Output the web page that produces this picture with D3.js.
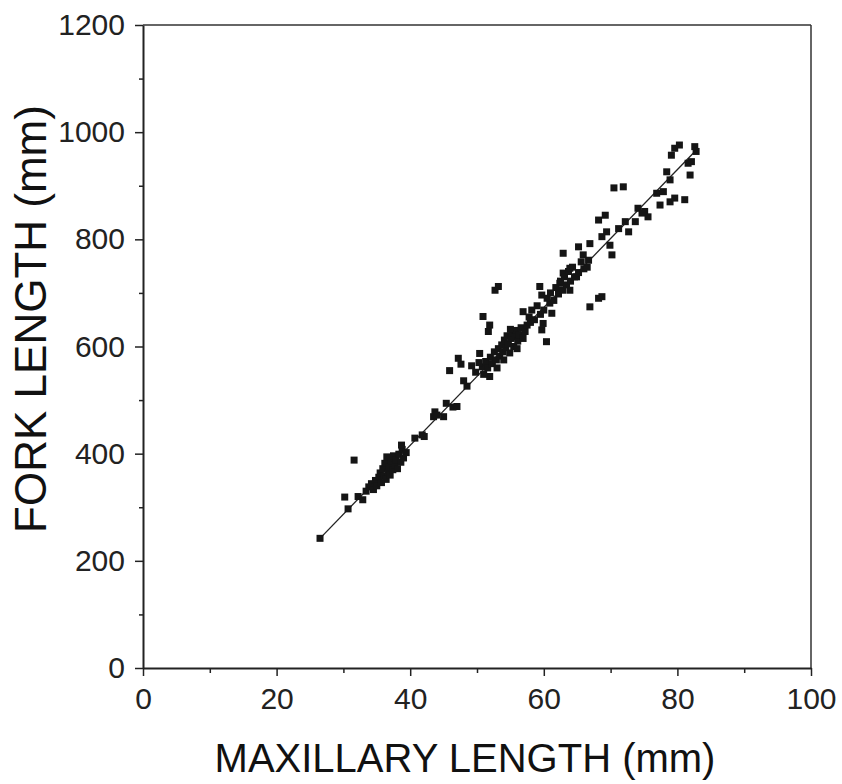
<!DOCTYPE html>
<html>
<head>
<meta charset="utf-8">
<script src="https://cdn.jsdelivr.net/npm/d3@7"></script>
<style>
  body { margin: 0; background: #fff; }
  svg { display: block; }
  .tick text { font-family: "Liberation Sans", Arial, sans-serif; fill: #222; }
</style>
</head>
<body>
<script>
// maxillary length (mm) and fork length (mm)
const maxillary = [
  26.5, 30.2, 30.7, 31.6, 32.2, 32.9, 33.4, 33.8, 34.2, 34.5,
  34.8, 35.0, 35.3, 35.5, 35.7, 35.9, 36.1, 36.2, 36.4, 36.5,
  36.7, 36.9, 37.0, 37.2, 37.4, 37.5, 37.7, 37.9, 38.1, 38.3,
  38.6, 38.8, 39.0, 39.4, 38.7, 40.7, 41.8, 42.1, 43.5, 43.7,
  44.0, 45.0, 45.4, 46.4, 47.0, 48.5, 45.9, 47.2, 47.6, 49.2,
  50.4, 51.9, 52.7, 53.2, 50.9, 51.9, 51.7, 50.8, 51.3, 51.6,
  52.0, 52.3, 52.6, 52.9, 53.2, 53.4, 53.7, 53.9, 54.1, 54.3,
  54.5, 54.7, 54.9, 55.1, 55.3, 55.5, 55.7, 55.9, 56.1, 56.3,
  56.6, 56.9, 57.2, 57.5, 53.0, 54.0, 55.0, 51.0, 56.0, 56.9,
  58.2, 59.4, 59.7, 59.9, 59.7, 60.4, 60.9, 61.2, 62.4, 62.9,
  63.9, 64.9, 66.9, 68.2, 60.5, 61.0, 61.5, 61.8, 62.2, 62.5,
  62.8, 63.1, 63.4, 63.7, 64.0, 64.3, 64.6, 65.2, 65.6, 66.0,
  60.0, 59.5, 58.6, 58.0, 59.0, 63.9, 66.5, 62.9, 65.2, 66.9,
  65.9, 66.7, 68.2, 69.2, 68.7, 69.4, 69.9, 70.2, 71.2, 72.2,
  72.7, 73.7, 74.1, 75.1, 75.6, 77.4, 78.9, 79.6, 71.9, 70.5,
  74.7, 76.9, 77.9, 81.1, 78.4, 78.9, 81.9, 81.6, 82.1, 79.1,
  79.6, 80.3, 82.6, 82.8, 57.8, 49.8, 50.3, 48.0, 68.7
];
const fork = [
  242, 319, 297, 388, 320, 314, 330, 338, 344, 333,
  350, 340, 356, 364, 346, 372, 358, 382, 352, 394,
  366, 376, 360, 386, 370, 396, 378, 389, 372, 399,
  384, 408, 392, 402, 416, 429, 435, 432, 469, 478,
  472, 469, 494, 487, 488, 526, 555, 578, 567, 564,
  587, 544, 705, 712, 656, 640, 628, 562, 572, 560,
  580, 568, 590, 575, 596, 582, 603, 590, 612, 598,
  620, 605, 588, 615, 625, 600, 618, 630, 610, 622,
  635, 615, 628, 640, 560, 575, 632, 548, 596, 665,
  668, 712, 696, 643, 631, 609, 681, 662, 718, 737,
  705, 730, 674, 690, 690, 700, 686, 710, 698, 722,
  705, 730, 715, 740, 722, 748, 730, 738, 758, 745,
  668, 660, 650, 645, 676, 746, 748, 774, 786, 792,
  771, 761, 836, 845, 805, 814, 789, 771, 820, 833,
  814, 833, 858, 852, 842, 864, 870, 877, 898, 896,
  849, 886, 889, 874, 926, 911, 920, 942, 945, 957,
  970, 976, 973, 964, 655, 552, 570, 536, 693
];

// fitted line end points
const fitX = [26.5, 82.4];
const fitY = [242, 961];

const xTicks = [0, 20, 40, 60, 80, 100];
const xMinor = [10, 30, 50, 70, 90];
const yTicks = [0, 200, 400, 600, 800, 1000, 1200];
const yMinor = [100, 300, 500, 700, 900, 1100];

const width = 842, height = 784;
const margin = { left: 143, right: 31, top: 25, bottom: 116 };
const innerW = width - margin.left - margin.right;
const innerH = height - margin.top - margin.bottom;

const svg = d3.select('body').append('svg')
  .attr('width', width)
  .attr('height', height);

const g = svg.append('g')
  .attr('transform', `translate(${margin.left},${margin.top})`);

const x = d3.scaleLinear().domain([0, 100]).range([0, innerW]);
const y = d3.scaleLinear().domain([0, 1200]).range([innerH, 0]);

// frame: top and right edges
g.append('line')
  .attr('x1', 0).attr('x2', innerW).attr('y1', 0).attr('y2', 0)
  .attr('stroke', '#333').attr('stroke-width', 1.5);
g.append('line')
  .attr('x1', innerW).attr('x2', innerW).attr('y1', 0).attr('y2', innerH)
  .attr('stroke', '#333').attr('stroke-width', 1.5);

// minor ticks
g.append('g')
  .attr('transform', `translate(0,${innerH})`)
  .call(d3.axisBottom(x).tickValues(xMinor).tickSize(5).tickFormat(''))
  .call(a => a.select('.domain').remove())
  .selectAll('line').attr('stroke', '#222').attr('stroke-width', 1.5);
g.append('g')
  .call(d3.axisLeft(y).tickValues(yMinor).tickSize(4).tickFormat(''))
  .call(a => a.select('.domain').remove())
  .selectAll('line').attr('stroke', '#222').attr('stroke-width', 1.5);

// major axes
const fmt = d3.format('d');
const xAxis = g.append('g')
  .attr('transform', `translate(0,${innerH})`)
  .call(d3.axisBottom(x).tickValues(xTicks).tickFormat(fmt)
    .tickSize(8).tickSizeOuter(0).tickPadding(12));
const yAxis = g.append('g')
  .call(d3.axisLeft(y).tickValues(yTicks).tickFormat(fmt)
    .tickSize(8).tickSizeOuter(0).tickPadding(10));

[xAxis, yAxis].forEach(a => {
  a.select('.domain').attr('stroke', '#222').attr('stroke-width', 2);
  a.selectAll('.tick line').attr('stroke', '#222').attr('stroke-width', 1.5);
  a.selectAll('.tick text').attr('font-size', 30);
});

// fitted line
g.append('line')
  .attr('x1', x(fitX[0])).attr('y1', y(fitY[0]))
  .attr('x2', x(fitX[1])).attr('y2', y(fitY[1]))
  .attr('stroke', '#222').attr('stroke-width', 1.3);

// points
const s = 7;
g.selectAll('rect.pt')
  .data(maxillary)
  .enter()
  .append('rect')
    .attr('class', 'pt')
    .attr('x', d => x(d) - s / 2)
    .attr('y', (d, i) => y(fork[i]) - s / 2)
    .attr('width', s)
    .attr('height', s)
    .attr('fill', '#151515');

// axis titles
svg.append('text')
  .attr('x', 465)
  .attr('y', 772)
  .attr('text-anchor', 'middle')
  .attr('font-family', '"Liberation Sans", Arial, sans-serif')
  .attr('font-size', 40)
  .attr('fill', '#111')
  .text('MAXILLARY LENGTH (mm)');

svg.append('text')
  .attr('transform', `translate(46,${319}) rotate(-90)`)
  .attr('text-anchor', 'middle')
  .attr('font-family', '"Liberation Sans", Arial, sans-serif')
  .attr('font-size', 44)
  .attr('fill', '#111')
  .text('FORK LENGTH (mm)');
</script>
</body>
</html>
